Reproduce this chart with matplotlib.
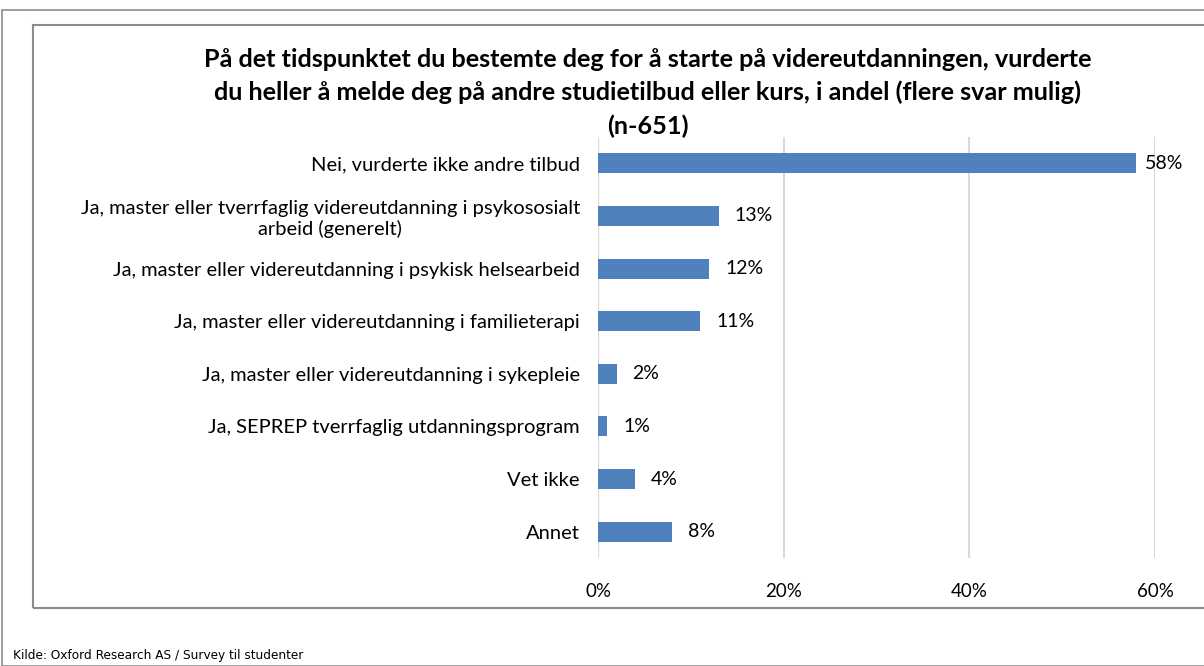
import matplotlib.pyplot as plt
from matplotlib.patches import Rectangle
from matplotlib.ticker import FuncFormatter

categories = [
    "Nei, vurderte ikke andre tilbud",
    "Ja, master eller tverrfaglig videreutdanning i psykososialt\narbeid (generelt)",
    "Ja, master eller videreutdanning i psykisk helsearbeid",
    "Ja, master eller videreutdanning i familieterapi",
    "Ja, master eller videreutdanning i sykepleie",
    "Ja, SEPREP tverrfaglig utdanningsprogram",
    "Vet ikke",
    "Annet",
]
values = [0.58, 0.13, 0.12, 0.11, 0.02, 0.01, 0.04, 0.08]
value_labels = ["58%", "13%", "12%", "11%", "2%", "1%", "4%", "8%"]
xticks = [0, 0.2, 0.4, 0.6]

TITLE = ("På det tidspunktet du bestemte deg for å starte på videreutdanningen, vurderte\n"
         "du heller å melde deg på andre studietilbud eller kurs, i andel (flere svar mulig)\n"
         "(n-651)")
SOURCE = "Kilde: Oxford Research AS / Survey til studenter"

BAR_COLOR = "#4f81bd"
W, H = 1204, 666

plt.rcParams["font.family"] = ["Lato", "DejaVu Sans"]

fig = plt.figure(figsize=(W / 100, H / 100), dpi=100)

# frames (outer page frame and chart box)
fig.patches.append(Rectangle((2 / W, 0), 1.2, 1 - 10 / H, transform=fig.transFigure,
                             fill=False, edgecolor="#8c8c8c", lw=1.2))
fig.patches.append(Rectangle((33 / W, 1 - 608 / H), 1.2, (608 - 25) / H,
                             transform=fig.transFigure, fill=False,
                             edgecolor="#8c8c8c", lw=1.5))

ax = fig.add_axes([598 / W, 1 - 558 / H, (1155 - 598) / W, (558 - 137) / H])
y = list(range(len(categories)))
ax.barh(y, values, height=0.38, color=BAR_COLOR, zorder=3)
ax.set_ylim(len(categories) - 0.5, -0.5)
ax.set_xlim(0, 0.6)
ax.set_xticks(xticks)
ax.xaxis.set_major_formatter(FuncFormatter(lambda v, p: f"{v * 100:.0f}%"))
ax.set_yticks(y)
ax.set_yticklabels(categories, fontsize=14.5, ha="right", multialignment="center")
ax.tick_params(axis="both", length=0, colors="#000000")
ax.tick_params(axis="x", labelsize=13.5, pad=18)
ax.tick_params(axis="y", pad=13)
ax.grid(axis="x", color="#d9d9d9", lw=1.5, zorder=0)
for s in ax.spines.values():
    s.set_visible(False)
ax.axvline(0, color="#d9d9d9", lw=1.5, zorder=1)

vmax = max(values)
for yi, v, lab in zip(y, values, value_labels):
    off = 6 if v == vmax else 11.5
    ax.annotate(lab, (v, yi), xytext=(off, 0), textcoords="offset points",
                va="center", ha="left", fontsize=14)

fig.text(648 / W, 1 - 48 / H, TITLE, ha="center", va="top", fontsize=18.2,
         fontweight="bold", linespacing=1.5)
fig.text(13 / W, 1 - 655 / H, SOURCE, ha="left", va="center", fontsize=9.7,
         family=["DejaVu Sans"], fontstretch="condensed")

fig.savefig("out.png", dpi=100)
